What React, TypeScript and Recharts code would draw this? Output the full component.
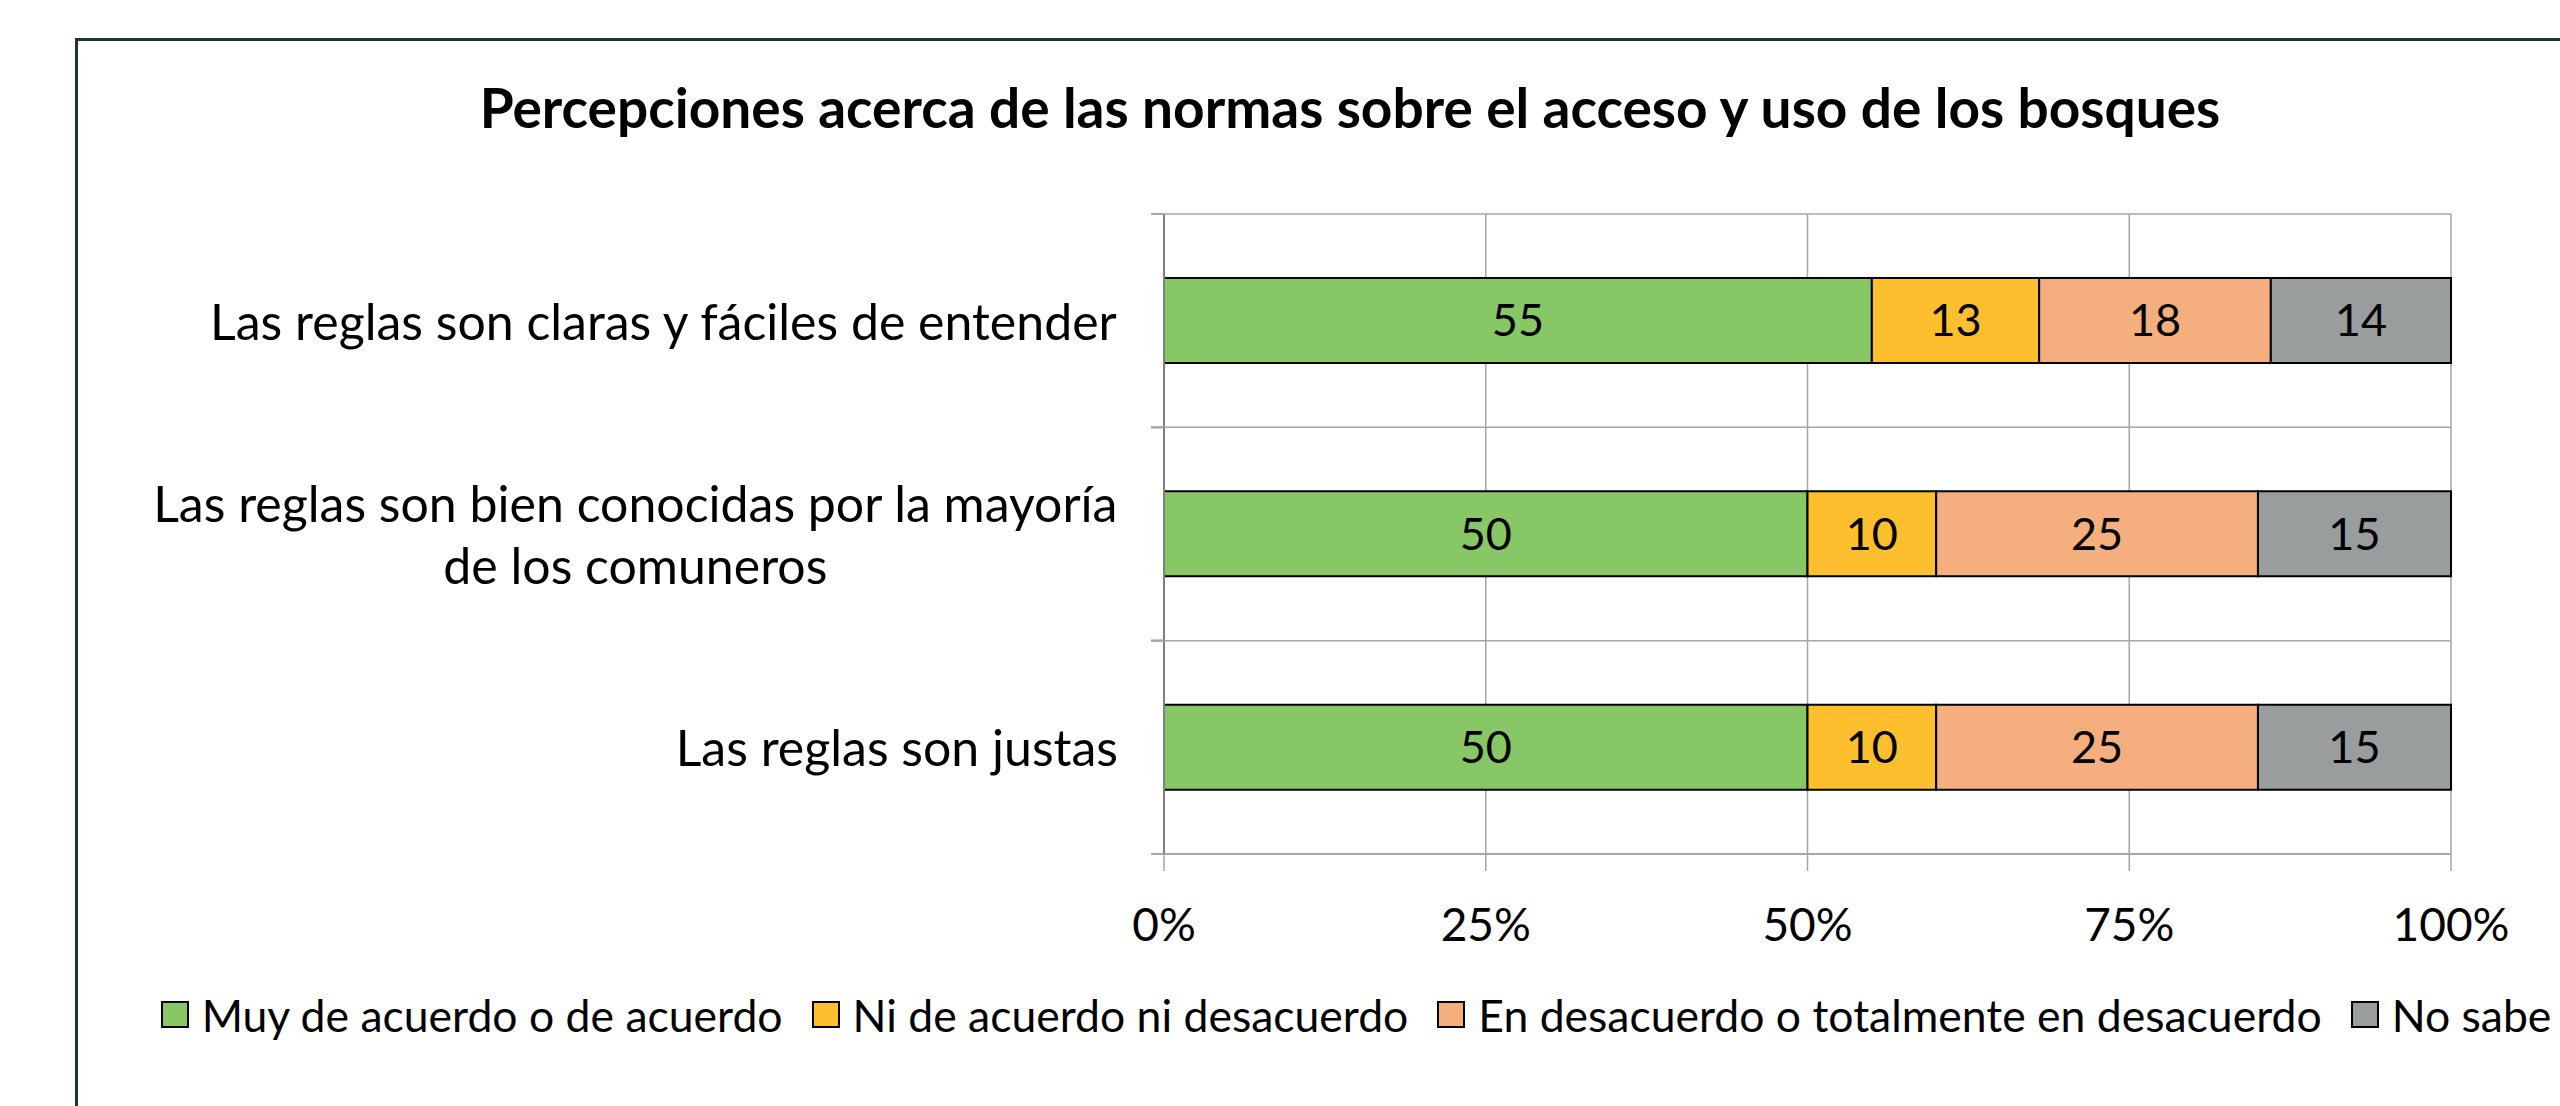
import React from "react"
import { BarChart, Bar, XAxis, YAxis, CartesianGrid, LabelList } from "recharts"

const CATEGORIES = [
    "Las reglas son claras y fáciles de entender",
    "Las reglas son bien conocidas por la mayoría de los comuneros",
    "Las reglas son justas",
]
const ACUERDO = [55, 50, 50]
const NEUTRAL = [13, 10, 10]
const DESACUERDO = [18, 25, 25]
const NO_SABE = [14, 15, 15]
const X_TICKS = [0, 25, 50, 75, 100]

const SERIES = [
    { key: "acuerdo", label: "Muy de acuerdo o de acuerdo", color: "#88C766", values: ACUERDO },
    { key: "neutral", label: "Ni de acuerdo ni desacuerdo", color: "#FDBF2D", values: NEUTRAL },
    { key: "desacuerdo", label: "En desacuerdo o totalmente en desacuerdo", color: "#F5AE7E", values: DESACUERDO },
    { key: "noSabe", label: "No sabe", color: "#9A9D9D", values: NO_SABE },
]

const TITLE = "Percepciones acerca de las normas sobre el acceso y uso de los bosques"

const W = 2560
const H = 1106
const FONT = "Lato, 'Noto Sans', sans-serif"
const MARGIN = { top: 214, right: 109, bottom: 182, left: 0 }
const Y_AXIS_W = 1164
const X_AXIS_H = 70
const PLOT_H = H - MARGIN.top - MARGIN.bottom - X_AXIS_H
const BAND = PLOT_H / CATEGORIES.length
const GRID = "#A6A6A6"
const CAT_SIZE = 50
const CAT_WRAP = 985

const data = CATEGORIES.map((name, i) => {
    const row: Record<string, string | number> = { name }
    SERIES.forEach(s => { row[s.key] = s.values[i] })
    return row
})

let ctx: CanvasRenderingContext2D | null = null
function textWidth(s: string, size: number) {
    if (!ctx) ctx = document.createElement("canvas").getContext("2d")
    ctx!.font = `${size}px ${FONT}`
    return ctx!.measureText(s).width
}

function wrap(label: string, size: number, max: number) {
    const lines: string[] = []
    let cur = ""
    for (const w of label.split(" ")) {
        const next = cur ? cur + " " + w : w
        if (cur && textWidth(next, size) > max) { lines.push(cur); cur = w } else cur = next
    }
    if (cur) lines.push(cur)
    return lines
}

// category labels: block right-aligned at the tick, lines centred inside it (Excel style)
function CategoryTick({ x, y, payload }: { x: number; y: number; payload: { value: string } }) {
    const lines = wrap(payload.value, CAT_SIZE, CAT_WRAP)
    const block = Math.max(...lines.map(l => textWidth(l, CAT_SIZE)))
    const cx = x - block / 2
    const lh = 62
    const y0 = y - (lines.length - 1) * lh / 2
    const axisX = Y_AXIS_W
    return (
        <g>
            <line x1={axisX - 13} x2={axisX} y1={y - BAND / 2} y2={y - BAND / 2} stroke={GRID} strokeWidth={2} />
            <line x1={axisX - 13} x2={axisX} y1={y + BAND / 2} y2={y + BAND / 2} stroke={GRID} strokeWidth={2} />
            {lines.map((l, i) => (
                <text key={i} x={cx} y={y0 + i * lh} textAnchor="middle" dominantBaseline="central"
                    style={{ fontFamily: FONT, fontSize: CAT_SIZE, fill: "#000" }}>{l}</text>
            ))}
        </g>
    )
}

export default function App() {
    return (
        <div style={{ position: "absolute", left: 0, top: 0, width: W, height: H, overflow: "hidden", background: "#fff" }}>
            {/* frame */}
            <div style={{ position: "absolute", left: 75, top: 38, width: W + 100, height: H + 100, border: "3px solid #1B3638" }} />

            {/* title */}
            <div style={{ position: "absolute", left: 1350, top: 74, transform: "translateX(-50%)", whiteSpace: "nowrap", fontFamily: FONT, fontWeight: 700, fontSize: 55, lineHeight: 1.2, color: "#000" }}>
                {TITLE}
            </div>

            <div style={{ position: "absolute", left: 0, top: 0 }}>
                <BarChart width={W} height={H} data={data} layout="vertical" margin={MARGIN} barCategoryGap="30%">
                    <CartesianGrid
                        stroke={GRID}
                        strokeWidth={1.5}
                        vertical
                        horizontal
                        horizontalCoordinatesGenerator={() => CATEGORIES.map((_, i) => MARGIN.top + i * BAND).concat(MARGIN.top + PLOT_H)}
                    />
                    <XAxis
                        type="number"
                        domain={[0, 100]}
                        ticks={X_TICKS}
                        height={X_AXIS_H}
                        tickFormatter={(v: number) => `${v}%`}
                        tickSize={17}
                        tickMargin={37}
                        axisLine={{ stroke: GRID, strokeWidth: 2 }}
                        tickLine={{ stroke: GRID, strokeWidth: 1.5 }}
                        tick={{ fontFamily: FONT, fontSize: 46, fill: "#000" }}
                    />
                    <YAxis
                        type="category"
                        dataKey="name"
                        width={Y_AXIS_W}
                        tickLine={false}
                        tickSize={0}
                        tickMargin={46}
                        axisLine={{ stroke: "#808080", strokeWidth: 2 }}
                        tick={CategoryTick as any}
                        interval={0}
                    />
                    {SERIES.map(s => (
                        <Bar key={s.key} dataKey={s.key} name={s.label} stackId="a" fill={s.color} stroke="#000" strokeWidth={2} isAnimationActive={false}>
                            <LabelList dataKey={s.key} position="center" style={{ fontFamily: FONT, fontSize: 45, fill: "#000" }} />
                        </Bar>
                    ))}
                </BarChart>
            </div>

            {/* legend */}
            <div style={{ position: "absolute", left: 76, top: 988, width: W, display: "flex", justifyContent: "center", alignItems: "center", gap: 29, fontFamily: FONT, fontSize: 44.5, lineHeight: 1.2, color: "#000" }}>
                {SERIES.map(s => (
                    <div key={s.key} style={{ display: "flex", alignItems: "center", gap: 13, whiteSpace: "nowrap" }}>
                        <div style={{ width: 24, height: 23, background: s.color, border: "2px solid #000" }} />
                        <span>{s.label}</span>
                    </div>
                ))}
            </div>
        </div>
    )
}
